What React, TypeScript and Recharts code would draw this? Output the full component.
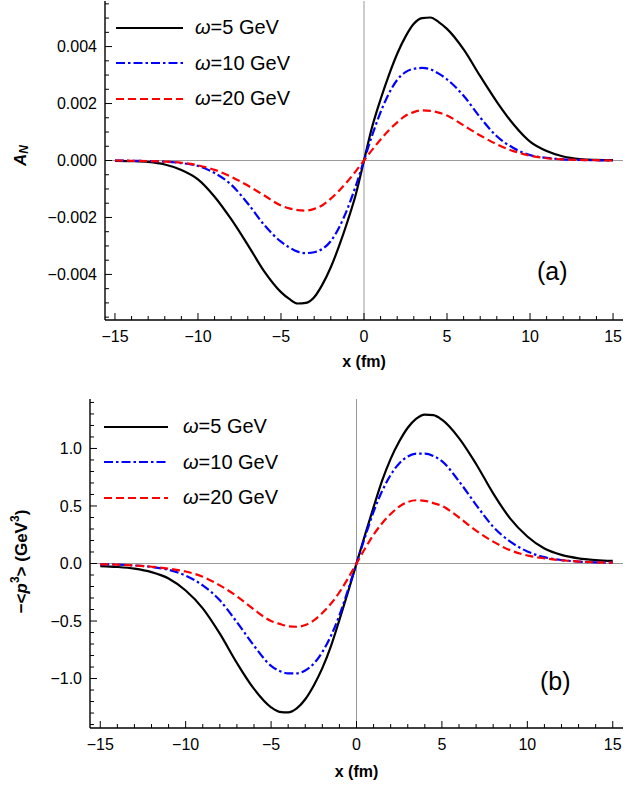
import React from "react";
import { LineChart, Line, XAxis, YAxis, ReferenceLine } from "recharts";

const FONT = '"Liberation Sans", Arial, sans-serif';

// sample positions along x (fm)
const X = [-15, -14, -13, -12, -11, -10, -9, -8, -7, -6, -5, -4.5, -4, -3.5, -3, -2.5, -2, -1.5, -1, -0.5, 0,
  0.5, 1, 1.5, 2, 2.5, 3, 3.5, 4, 4.5, 5, 6, 7, 8, 9, 10, 11, 12, 13, 14, 15];

// panel (a): A_N
const AN_W5 = [-0.00001, -0.00002, -0.00005, -0.00014, -0.00033, -0.00066, -0.00127, -0.00206, -0.00296, -0.0039,
  -0.00462, -0.00486, -0.00502, -0.005, -0.0048, -0.00435, -0.00375, -0.003, -0.00215, -0.0012, 0,
  0.0012, 0.00215, 0.003, 0.00375, 0.00435, 0.0048, 0.005, 0.00502, 0.00486, 0.00462,
  0.0039, 0.00296, 0.00206, 0.00127, 0.00066, 0.00033, 0.00014, 0.00005, 0.00002, 0.00001];
const AN_W10 = [0, -0.00001, -0.00002, -0.00004, -0.00009, -0.00019, -0.00044, -0.00085, -0.00151, -0.00227,
  -0.00285, -0.00305, -0.0032, -0.00325, -0.00322, -0.0031, -0.00283, -0.00235, -0.0017, -0.0009, 0,
  0.0009, 0.0017, 0.00235, 0.00283, 0.0031, 0.00322, 0.00325, 0.0032, 0.00305, 0.00285,
  0.00227, 0.00151, 0.00085, 0.00044, 0.00019, 0.00009, 0.00004, 0.00002, 0.00001, 0];
const AN_W20 = [0, -0.00001, -0.00002, -0.00004, -0.00008, -0.00017, -0.00033, -0.00057, -0.00088, -0.00123,
  -0.00158, -0.00168, -0.00174, -0.00176, -0.0017, -0.00157, -0.00134, -0.00106, -0.00074, -0.00038, 0,
  0.00038, 0.00074, 0.00106, 0.00134, 0.00157, 0.0017, 0.00176, 0.00174, 0.00168, 0.00158,
  0.00123, 0.00088, 0.00057, 0.00033, 0.00017, 0.00008, 0.00004, 0.00002, 0.00001, 0];

// panel (b): -<p^3> (GeV^3)
const P3_W5 = [-0.022, -0.03, -0.045, -0.075, -0.13, -0.235, -0.39, -0.61, -0.865, -1.09,
  -1.25, -1.29, -1.295, -1.26, -1.18, -1.06, -0.91, -0.72, -0.49, -0.25, 0,
  0.25, 0.49, 0.72, 0.91, 1.06, 1.18, 1.26, 1.295, 1.29, 1.25,
  1.09, 0.865, 0.61, 0.39, 0.235, 0.13, 0.075, 0.045, 0.03, 0.022];
const P3_W10 = [-0.007, -0.01, -0.017, -0.03, -0.055, -0.105, -0.19, -0.32, -0.51, -0.715,
  -0.89, -0.935, -0.955, -0.955, -0.93, -0.87, -0.77, -0.63, -0.45, -0.23, 0,
  0.23, 0.45, 0.63, 0.77, 0.87, 0.93, 0.955, 0.955, 0.935, 0.89,
  0.715, 0.51, 0.32, 0.19, 0.105, 0.055, 0.03, 0.017, 0.01, 0.007];
const P3_W20 = [-0.007, -0.01, -0.017, -0.028, -0.045, -0.07, -0.115, -0.19, -0.285, -0.4,
  -0.5, -0.525, -0.545, -0.55, -0.535, -0.495, -0.43, -0.35, -0.25, -0.13, 0,
  0.13, 0.25, 0.35, 0.43, 0.495, 0.535, 0.55, 0.545, 0.525, 0.5,
  0.4, 0.285, 0.19, 0.115, 0.07, 0.045, 0.028, 0.017, 0.01, 0.007];

const SERIES = ["ω=5 GeV", "ω=10 GeV", "ω=20 GeV"];

// ticks
const X_TICKS = [-15, -14, -13, -12, -11, -10, -9, -8, -7, -6, -5, -4, -3, -2, -1, 0,
  1, 2, 3, 4, 5, 6, 7, 8, 9, 10, 11, 12, 13, 14, 15];
const X_MAJOR = [-15, -10, -5, 0, 5, 10, 15];
const X_LABELS = ["−15", "−10", "−5", "0", "5", "10", "15"];

const Y1_TICKS = [-0.0055, -0.005, -0.0045, -0.004, -0.0035, -0.003, -0.0025, -0.002, -0.0015, -0.001, -0.0005, 0,
  0.0005, 0.001, 0.0015, 0.002, 0.0025, 0.003, 0.0035, 0.004, 0.0045, 0.005, 0.0055];
const Y1_MAJOR = [-0.004, -0.002, 0, 0.002, 0.004];
const Y1_LABELS = ["−0.004", "−0.002", "0.000", "0.002", "0.004"];

const Y2_TICKS = [-1.4, -1.3, -1.2, -1.1, -1.0, -0.9, -0.8, -0.7, -0.6, -0.5, -0.4, -0.3, -0.2, -0.1, 0,
  0.1, 0.2, 0.3, 0.4, 0.5, 0.6, 0.7, 0.8, 0.9, 1.0, 1.1, 1.2, 1.3, 1.4];
const Y2_MAJOR = [-1, -0.5, 0, 0.5, 1];
const Y2_LABELS = ["−1.0", "−0.5", "0.0", "0.5", "1.0"];

const majorIndex = (list: number[], v: number) => list.findIndex((m) => Math.abs(m - v) < 1e-9);

const XTick = (p: any) => {
  const { x, y, payload, dir, showLabel } = p;
  const i = majorIndex(X_MAJOR, payload.value);
  const len = i >= 0 ? 7 : 4;
  return (
    <g>
      <line x1={x} x2={x} y1={y} y2={y - dir * len} stroke="#000" strokeWidth={1} />
      {showLabel && i >= 0 && (
        <text x={x} y={y + 22} textAnchor="middle" fontSize={16} fontFamily={FONT} fill="#000">
          {X_LABELS[i]}
        </text>
      )}
    </g>
  );
};

const YTick = (p: any) => {
  const { x, y, payload, dir, showLabel, major, labels } = p;
  const i = majorIndex(major, payload.value);
  const len = i >= 0 ? 7 : 4;
  return (
    <g>
      <line x1={x} x2={x + dir * len} y1={y} y2={y} stroke="#000" strokeWidth={1} />
      {showLabel && i >= 0 && (
        <text x={x - 8} y={y} dy="0.36em" textAnchor="end" fontSize={16} fontFamily={FONT} fill="#000">
          {labels[i]}
        </text>
      )}
    </g>
  );
};

const xLabel = (dy: number) => (props: any) => {
  const vb = props.viewBox;
  return (
    <text x={vb.x + vb.width / 2} y={vb.y + dy} textAnchor="middle" fontSize={16} fontWeight="bold"
      fontFamily={FONT} fill="#000">
      x (fm)
    </text>
  );
};

const yLabelA = (props: any) => {
  const vb = props.viewBox;
  const cx = 20;
  const cy = vb.y + vb.height / 2 - 5;
  return (
    <text x={cx} y={cy} transform={`rotate(-90 ${cx} ${cy})`} textAnchor="middle" dominantBaseline="central"
      fontSize={17} fontWeight="bold" fontFamily={FONT} fill="#000">
      <tspan fontStyle="italic">A</tspan>
      <tspan fontStyle="italic" fontSize={12} dy={4}>N</tspan>
    </text>
  );
};

const yLabelB = (props: any) => {
  const vb = props.viewBox;
  const cx = 21;
  const cy = vb.y + vb.height / 2 - 2;
  return (
    <text x={cx} y={cy} transform={`rotate(-90 ${cx} ${cy})`} textAnchor="middle" dominantBaseline="central"
      fontSize={17} fontWeight="bold" fontFamily={FONT} fill="#000">
      −&lt;<tspan fontStyle="italic">p</tspan>
      <tspan fontSize={12} dy={-6}>3</tspan>
      <tspan dy={6}>&gt; (GeV</tspan>
      <tspan fontSize={12} dy={-6}>3</tspan>
      <tspan dy={6}>)</tspan>
    </text>
  );
};

const STYLES = [
  { color: "#000000", dash: undefined },
  { color: "#0000ff", dash: "9 3 2.5 3" },
  { color: "#ff0000", dash: "8 4" },
];

const LegendBox = ({ left, top, lineLen, gap }: { left: number; top: number; lineLen: number; gap: number }) => (
  <div style={{ position: "absolute", left, top, fontFamily: FONT, fontSize: 20, color: "#000" }}>
    {SERIES.map((name, i) => (
      <div key={name} style={{ height: 35.5, display: "flex", alignItems: "center" }}>
        <svg width={lineLen} height={6} style={{ marginRight: gap }}>
          <line x1={0} x2={lineLen} y1={3} y2={3} stroke={STYLES[i].color} strokeWidth={2.2}
            strokeDasharray={STYLES[i].dash} />
        </svg>
        <span>
          <i>ω</i>
          {name.slice(1)}
        </span>
      </div>
    ))}
  </div>
);

type PanelProps = {
  data: any[];
  height: number;
  top: number;
  axisWidth: number;
  axisHeight: number;
  yDomain: number[];
  yTicks: number[];
  yMajor: number[];
  yLabels: string[];
  yLabel: any;
  xLabelDy: number;
};

const FRAME = { stroke: "#000", strokeWidth: 1.4 };

const Panel = (p: PanelProps) => (
  <LineChart width={641} height={p.height} data={p.data} margin={{ top: p.top, right: 18, bottom: 0, left: 0 }}>
    <XAxis xAxisId="b" dataKey="x" type="number" domain={[-15.6, 15.6]} allowDataOverflow ticks={X_TICKS}
      interval={0} tickSize={0} tickMargin={0} height={p.axisHeight} axisLine={FRAME}
      tick={(t: any) => <XTick {...t} dir={1} showLabel />} label={xLabel(p.xLabelDy)} />
    <XAxis xAxisId="t" orientation="top" dataKey="x" type="number" domain={[-15.6, 15.6]} allowDataOverflow
      ticks={X_TICKS} interval={0} tickSize={0} tickMargin={0} height={0} axisLine={FRAME}
      tick={(t: any) => <XTick {...t} dir={-1} showLabel={false} />} />
    <YAxis yAxisId="l" type="number" domain={p.yDomain} allowDataOverflow ticks={p.yTicks} interval={0}
      tickSize={0} tickMargin={0} width={p.axisWidth} axisLine={FRAME}
      tick={(t: any) => <YTick {...t} dir={1} showLabel major={p.yMajor} labels={p.yLabels} />}
      label={p.yLabel} />
    <YAxis yAxisId="r" orientation="right" type="number" domain={p.yDomain} allowDataOverflow ticks={p.yTicks}
      interval={0} tickSize={0} tickMargin={0} width={0} axisLine={FRAME}
      tick={(t: any) => <YTick {...t} dir={-1} showLabel={false} major={p.yMajor} labels={p.yLabels} />} />
    <ReferenceLine xAxisId="b" yAxisId="l" x={0} stroke="#999" strokeWidth={1} />
    <ReferenceLine xAxisId="b" yAxisId="l" y={0} stroke="#999" strokeWidth={1} />
    {["w5", "w10", "w20"].map((k, i) => (
      <Line key={k} xAxisId="b" yAxisId="l" dataKey={k} type="monotone" stroke={STYLES[i].color}
        strokeWidth={2.2} strokeDasharray={STYLES[i].dash} dot={false} isAnimationActive={false} />
    ))}
  </LineChart>
);

export default function App() {
  const dataA = X.map((x, i) => ({ x, w5: AN_W5[i], w10: AN_W10[i], w20: AN_W20[i] }));
  const dataB = X.map((x, i) => ({ x, w5: P3_W5[i], w10: P3_W10[i], w20: P3_W20[i] }));

  return (
    <div style={{ position: "absolute", left: 0, top: 0, width: 641, height: 785, background: "#fff" }}>
      <div style={{ position: "relative", width: 641, height: 380 }}>
        <Panel data={dataA} height={380} top={1} axisWidth={105} axisHeight={60}
          yDomain={[-0.0056, 0.0056]} yTicks={Y1_TICKS} yMajor={Y1_MAJOR} yLabels={Y1_LABELS}
          yLabel={yLabelA} xLabelDy={47} />
        <LegendBox left={116} top={10} lineLen={67} gap={12} />
        <div style={{ position: "absolute", left: 537, top: 257, fontFamily: FONT, fontSize: 25 }}>(a)</div>
      </div>
      <div style={{ position: "relative", width: 641, height: 405 }}>
        <Panel data={dataB} height={405} top={19} axisWidth={90} axisHeight={57}
          yDomain={[-1.43, 1.43]} yTicks={Y2_TICKS} yMajor={Y2_MAJOR} yLabels={Y2_LABELS}
          yLabel={yLabelB} xLabelDy={49} />
        <LegendBox left={104} top={29} lineLen={64} gap={15} />
        <div style={{ position: "absolute", left: 540, top: 287, fontFamily: FONT, fontSize: 25 }}>(b)</div>
      </div>
    </div>
  );
}
